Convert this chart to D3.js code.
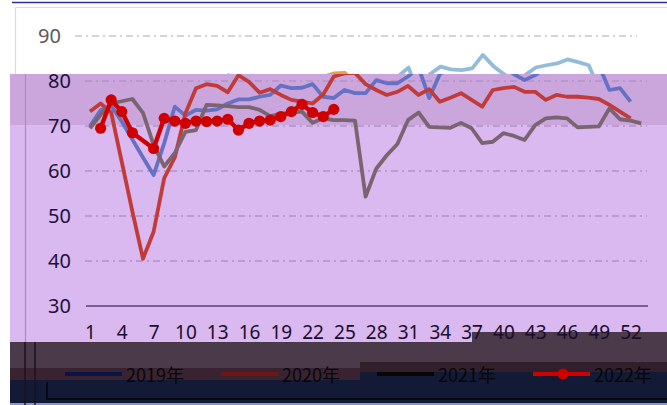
<!DOCTYPE html>
<html>
<head>
<meta charset="utf-8">
<script src="https://cdn.jsdelivr.net/npm/d3@7"></script>
<style>
  body { margin: 0; background: #fff; }
  svg { display: block; }
  text { font-family: "Noto Sans", "Open Sans", sans-serif; }
</style>
</head>
<body>
<svg id="chart" width="667" height="405"></svg>
<script>
// Data
const weeks = d3.range(1, 54);
const tickWeeks = [1, 4, 7, 10, 13, 16, 19, 22, 25, 28, 31, 34, 37, 40, 43, 46, 49, 52];
const yTicks = [30, 40, 50, 60, 70, 80, 90];
const seriesNames = ["2019年", "2020年", "2021年", "2022年"];

const v2019 = [70, 73.5, 74.5, 71, 67, 63, 59.1, 66.2, 74.3, 72.3,
  73.6, 73.4, 73.7, 75, 75.9, 75.9, 76.5, 76.9, 79, 78.4,
  78.5, 79.3, 76.5, 76.2, 78, 77.3, 77.3, 80.2, 79.5, 79.5,
  81, 83, 76.2, 81.5, 83.2, 82.6, 82.4, 82.8, 85.8, 83.3,
  81.5, 80.2, 81.3, 83, 83.5, 83.9, 84.8, 84.2, 83.5, 78,
  78.4, 75.4];
const v2020 = [73.2, 75, 73, 62, 51, 40.5, 46.5, 58.4, 63, 72.8,
  78.4, 79.3, 78.9, 77.5, 81.3, 79.8, 77.4, 78.2, 76.9, 75.8,
  75.4, 75, 77, 81, 81.7, 81.8, 79.3, 78, 76.9, 77.6,
  78.9, 76.9, 78.2, 75.4, 76.3, 77.3, 75.8, 74.3, 78, 78.4,
  78.7, 77.6, 77.6, 75.8, 76.9, 76.5, 76.5, 76.3, 76, 74.7,
  73.2, 71.7];
const v2021 = [69.5, 72.5, 75, 75.5, 76, 72.9, 65.8, 61, 64, 68.7,
  69.1, 74.7, 74.6, 74.4, 74.2, 74.2, 73.6, 72.2, 72.7, 73,
  73.2, 70.7, 71.7, 71.3, 71.3, 71.2, 54.3, 60.5, 63.5, 66,
  71.3, 73, 69.8, 69.7, 69.6, 70.7, 69.5, 66.2, 66.5, 68.4,
  67.8, 66.9, 70.2, 71.7, 71.9, 71.7, 69.7, 69.8, 69.9, 73.9,
  71.5, 71.2, 70.6];
const v2022 = [null, 69.5, 75.8, 73.2, 68.5, null, 65.0, 71.7, 71.1, 70.6,
  71.1, 71.0, 71.1, 71.5, 69.1, 70.6, 71.1, 71.3, 72.1, 73.2,
  74.8, 73.0, 72.1, 73.7];

const allSeries = [v2019, v2020, v2021, v2022];

// Config
const SHIFT = 10;   // the white strip on top shows the chart 10px to the left
const CUT = 74;     // where the purple starts
const PAL_TOP = {
  grid: "#c6c6c6", label: "#5a5a5a", border: "#dcdcdc",
  lines: ["#93bcd9", "#e8a04c", "#9a8a92", "#e03030"]
};
const PAL_MAIN = {
  grid: "#b192c6", label: "#22103a", border: "#a88bbf",
  lines: ["#6670c4", "#c23b3b", "#7a6470", "#d00000"]
};

const svg = d3.select("#chart");
const x = d3.scalePoint().domain(weeks).range([90, 641.2]);
const y = d3.scaleLinear().domain([30, 90]).range([306, 36]);

const defs = svg.append("defs");
defs.append("clipPath").attr("id", "clipTop")
  .append("rect").attr("x", -20).attr("y", 5).attr("width", 720).attr("height", CUT - 5);
defs.append("clipPath").attr("id", "clipMain")
  .append("rect").attr("x", 10).attr("y", CUT).attr("width", 657).attr("height", 342 - CUT);

// Background
svg.append("rect").attr("width", 667).attr("height", 405).attr("fill", "#fff");
svg.append("line").attr("x1", 12).attr("x2", 667).attr("y1", 2.5).attr("y2", 2.5)
  .attr("stroke", "#2e2e9c").attr("stroke-width", 1.6);

// purple bands
svg.append("rect").attr("x", 10).attr("y", 125).attr("width", 657).attr("height", 217).attr("fill", "#d9b9ef");
svg.append("rect").attr("x", 10).attr("y", CUT).attr("width", 657).attr("height", 125 - CUT).attr("fill", "#caa6dd");

function drawPlot(g, pal, main) {
  // container border
  g.append("path")
    .attr("d", `M25.5,405V7.5H700`)
    .attr("fill", "none").attr("stroke", pal.border).attr("stroke-width", 1.2);

  // grid
  g.append("g").selectAll("line")
    .data(yTicks.filter((v) => v > 30))
    .join("line")
    .attr("x1", 85).attr("x2", 647)
    .attr("y1", (d) => y(d)).attr("y2", (d) => y(d))
    .attr("stroke", pal.grid).attr("stroke-width", 1.3)
    .attr("stroke-dasharray", "7,4,2,4");

  if (main) {
    g.append("line")
      .attr("x1", 86).attr("x2", 648).attr("y1", y(30)).attr("y2", y(30))
      .attr("stroke", "#5d3e7a").attr("stroke-width", 1.6);
  }

  // y labels: only the ones that fall inside this part of the picture
  const shown = yTicks.filter((v) => (main ? y(v) >= CUT : y(v) < CUT));
  const yAxis = g.append("g").attr("transform", "translate(71,0)")
    .call(d3.axisLeft(y).tickValues(shown).tickSize(0).tickPadding(0));
  yAxis.select(".domain").remove();
  yAxis.selectAll("text")
    .attr("fill", pal.label)
    .style("font-size", "20px")
    .style("font-family", "'Noto Sans', sans-serif");

  // lines
  const line = d3.line()
    .x((d) => x(d.w))
    .y((d) => y(d.v));

  allSeries.forEach((vals, i) => {
    const pts = vals.map((v, k) => ({ w: weeks[k], v })).filter((d) => d.v != null);
    g.append("path")
      .datum(pts)
      .attr("d", line)
      .attr("fill", "none")
      .attr("stroke", pal.lines[i])
      .attr("stroke-width", i === 3 ? 4.4 : 3.8)
      .attr("stroke-linejoin", "round");
    if (i === 3) {
      g.append("g").selectAll("circle")
        .data(pts)
        .join("circle")
        .attr("cx", (d) => x(d.w))
        .attr("cy", (d) => y(d.v))
        .attr("r", 5.6)
        .attr("fill", pal.lines[i]);
    }
  });
}

const topG = svg.append("g").attr("clip-path", "url(#clipTop)")
  .append("g").attr("transform", `translate(${-SHIFT},0)`);
drawPlot(topG, PAL_TOP, false);

const mainG = svg.append("g").attr("clip-path", "url(#clipMain)").append("g");
drawPlot(mainG, PAL_MAIN, true);

// dark bands at the bottom
const bands = svg.append("g");
bands.append("rect").attr("x", 10).attr("y", 342).attr("width", 462).attr("height", 26).attr("fill", "#4b3a4a");
bands.append("rect").attr("x", 472).attr("y", 332).attr("width", 195).attr("height", 30).attr("fill", "#4b3a4a");
bands.append("rect").attr("x", 10).attr("y", 368).attr("width", 350).attr("height", 12).attr("fill", "#3a2330");
bands.append("rect").attr("x", 360).attr("y", 362).attr("width", 307).attr("height", 10).attr("fill", "#311f2b");
bands.append("rect").attr("x", 10).attr("y", 380).attr("width", 350).attr("height", 23).attr("fill", "#131a35");
bands.append("rect").attr("x", 360).attr("y", 372).attr("width", 307).attr("height", 31).attr("fill", "#131a35");
bands.append("rect").attr("x", 10).attr("y", 403).attr("width", 657).attr("height", 2).attr("fill", "#8a94d2");
bands.append("path").attr("d", "M25,342V405M35,342V405")
  .attr("stroke", "#1c1222").attr("stroke-width", 1.5);
bands.append("path").attr("d", "M47,382V399H667")
  .attr("fill", "none").attr("stroke", "#05060c").attr("stroke-width", 1.5);

// x labels
const xAxis = svg.append("g").attr("transform", "translate(0,316)")
  .call(d3.axisBottom(x).tickValues(tickWeeks).tickSize(0).tickPadding(10));
xAxis.select(".domain").remove();
xAxis.selectAll("text")
  .attr("fill", "#1a0c2c")
  .style("font-size", "19px")
  .style("font-family", "'Noto Sans', sans-serif");

// legend
const legendX = d3.scaleBand().domain(seriesNames).range([65, 689]);
const legendColors = ["#0b1446", "#701414", "#060606", "#d00000"];
const legend = svg.append("g");
const item = legend.selectAll("g")
  .data(seriesNames)
  .join("g")
  .attr("transform", (d) => `translate(${legendX(d)},374)`);
item.append("line")
  .attr("x1", 0).attr("x2", 57)
  .attr("stroke", (d, i) => legendColors[i])
  .attr("stroke-width", 4);
item.filter((d, i) => i === 3).append("circle")
  .attr("cx", 30).attr("r", 5.5).attr("fill", legendColors[3]);
item.append("text")
  .attr("x", 61).attr("y", 8)
  .attr("fill", "#06060c")
  .style("font-size", "18px")
  .style("font-family", "'Noto Sans CJK SC', sans-serif")
  .text((d) => d);
</script>
</body>
</html>
